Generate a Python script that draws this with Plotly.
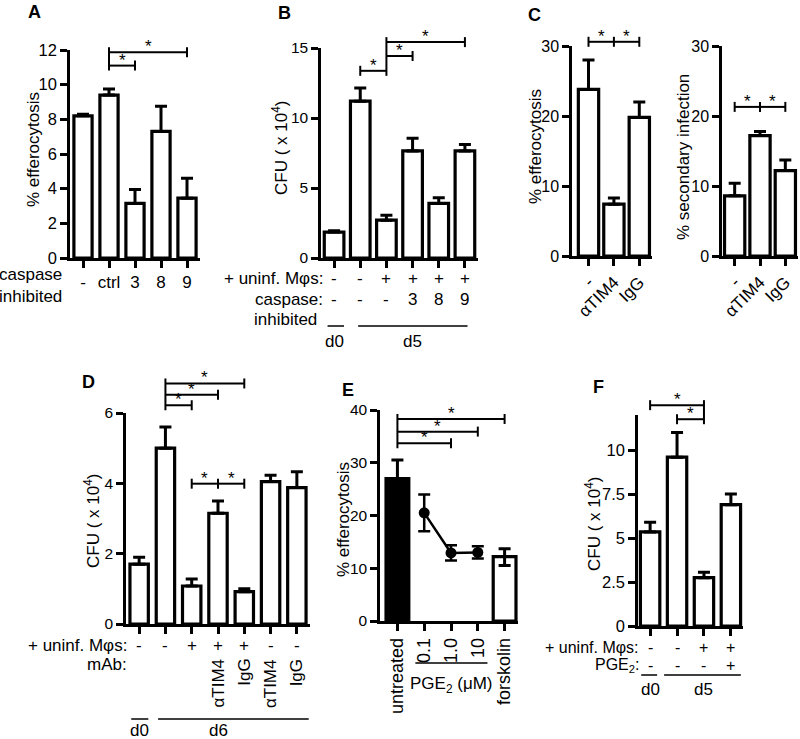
import plotly.graph_objects as go

W, H = 800, 739
FONT = "Liberation Sans, Arial, Helvetica, sans-serif"

# ---------------- data ----------------
A_labels = ["-", "ctrl", "3", "8", "9"]
A_vals = [8.2, 9.4, 3.15, 7.3, 3.45]
A_err = [0.1, 0.35, 0.8, 1.45, 1.15]
A_sig = [(1, 2, 11.1), (1, 4, 11.87)]

B_vals = [1.85, 11.2, 2.7, 7.65, 3.9, 7.65]
B_err = [0.1, 0.95, 0.35, 0.9, 0.4, 0.45]
B_row1 = ["-", "-", "+", "+", "+", "+"]
B_row2 = ["-", "-", "-", "3", "8", "9"]
B_sig = [(1, 2, 13.37), (2, 3, 14.43), (2, 5, 15.42)]

C_labels = ["-", "αTIM4", "IgG"]
C1_vals = [23.8, 7.4, 19.8]
C1_err = [4.2, 0.9, 2.2]
C1_sig = [(0, 1, 30.6), (1, 2, 30.6)]
C2_vals = [8.6, 17.2, 12.2]
C2_err = [1.8, 0.6, 1.5]
C2_sig = [(0, 1, 21.3), (1, 2, 21.3)]

D_vals = [1.7, 5.0, 1.08, 3.15, 0.92, 4.05, 3.88]
D_err = [0.2, 0.6, 0.2, 0.35, 0.08, 0.18, 0.45]
D_row1 = ["-", "-", "+", "+", "+", "-", "-"]
D_mab = ["", "", "", "αTIM4", "IgG", "αTIM4", "IgG"]
D_sig = [(1, 2, 6.22), (1, 3, 6.52), (1, 4, 6.84), (2, 3, 3.99), (3, 4, 3.99)]

E_labels = ["untreated", "0.1", "1.0", "10", "forskolin"]
E_bar_x = [0, 4]
E_bar_vals = [27.0, 12.2]
E_bar_err_up = [3.5, 1.5]
E_bar_err_dn = [0, 1.7]
E_bar_colors = ["black", "white"]
E_pt_x = [1, 2, 3]
E_pt_vals = [20.5, 12.9, 13.0]
E_pt_err = [3.5, 1.45, 1.15]
E_sig = [(0, 2, 33.7), (0, 3, 35.9), (0, 4, 38.3)]

F_vals = [5.35, 9.6, 2.75, 6.9]
F_err = [0.55, 1.4, 0.3, 0.6]
F_row1 = ["-", "-", "+", "+"]
F_row2 = ["-", "-", "-", "+"]
F_sig = [(0, 2, 12.56), (1, 2, 11.76)]

# ---------------- panel geometry (pixels) ----------------
P = {
    "A": dict(n=1, xd=(70, 200), yd=(50, 258), xr=(-0.5, 4.5), yr=(0, 12), yt=[0, 2, 4, 6, 8, 10, 12], nc=5, fs=16.5),
    "B": dict(n=2, xd=(321, 478), yd=(48, 258), xr=(-0.5, 5.5), yr=(0, 15), yt=[0, 5, 10, 15], nc=6, fs=15.5),
    "C1": dict(n=3, xd=(572, 652), yd=(46, 256), xr=(-0.65, 2.5), yr=(0, 30), yt=[0, 10, 20, 30], nc=3, fs=16),
    "C2": dict(n=4, xd=(722, 798), yd=(46, 256), xr=(-0.5, 2.5), yr=(0, 30), yt=[0, 10, 20, 30], nc=3, fs=16),
    "D": dict(n=5, xd=(126, 310), yd=(413, 624), xr=(-0.5, 6.5), yr=(0, 6), yt=[0, 2, 4, 6], nc=7, fs=15.5),
    "E": dict(n=6, xd=(380, 518), yd=(410, 621), xr=(-0.65, 4.5), yr=(0, 40), yt=[0, 10, 20, 30, 40], nc=5, fs=15.5),
    "F": dict(n=7, xd=(638, 743), yd=(415, 626), xr=(-0.45, 3.45), yr=(0, 12), yt=[0, 2.5, 5, 7.5, 10], nc=4, fs=16.5),
}

fig = go.Figure()
shapes, annots = [], []


def ids(n):
    return ("x", "y") if n == 1 else (f"x{n}", f"y{n}")


def fx(p, x):
    return (x - p["xr"][0]) / (p["xr"][1] - p["xr"][0])


def fy(p, y):
    return (y - p["yr"][0]) / (p["yr"][1] - p["yr"][0])


def add_bars(p, x, vals, up, dn, width, colors="white"):
    xa, ya = ids(p["n"])
    fig.add_trace(go.Bar(
        x=x, y=vals, width=width, xaxis=xa, yaxis=ya,
        marker=dict(color=colors, line=dict(color="black", width=3.2)),
        error_y=dict(type="data", symmetric=False, array=up, arrayminus=dn,
                     color="black", thickness=3, width=6),
        showlegend=False, hoverinfo="skip"))


def add_sig(p, sig, tick_px=5, join_px=20):
    xa, ya = ids(p["n"])
    xref, yref = xa + " domain", ya + " domain"
    hpx = p["yd"][1] - p["yd"][0]
    upx = hpx / (p["yr"][1] - p["yr"][0])
    t = tick_px / hpx
    ln = dict(color="black", width=2)
    ends = {}
    for x0, x1, y in sig:
        shapes.append(dict(type="line", xref=xref, yref=yref, x0=fx(p, x0), x1=fx(p, x1),
                           y0=fy(p, y), y1=fy(p, y), line=ln))
        ends.setdefault(x0, []).append(y)
        ends.setdefault(x1, []).append(y)
        annots.append(dict(xref=xref, yref=yref, x=fx(p, (x0 + x1) / 2), y=fy(p, y), text="*",
                           showarrow=False, xanchor="center", yanchor="bottom", yshift=-6,
                           font=dict(size=17)))
    for x, ys in ends.items():
        ys = sorted(ys)
        clusters = [[ys[0]]]
        for y in ys[1:]:
            if (y - clusters[-1][-1]) * upx < join_px:
                clusters[-1].append(y)
            else:
                clusters.append([y])
        for c in clusters:
            shapes.append(dict(type="line", xref=xref, yref=yref, x0=fx(p, x), x1=fx(p, x),
                               y0=fy(p, c[0]) - t, y1=fy(p, c[-1]) + t, line=ln))


def add_row(p, labels, py, size=17):
    xa, _ = ids(p["n"])
    for i, s in enumerate(labels):
        if s:
            annots.append(dict(xref=xa, yref="paper", x=i, y=1 - py / H, text=s,
                               xanchor="center", yanchor="middle",
                               showarrow=False, font=dict(size=size)))


def add_text(px, py, text, xanchor="center", yanchor="middle", size=17, angle=0, bold=False, align="center"):
    if bold:
        text = "<b>" + text + "</b>"
    annots.append(dict(xref="paper", yref="paper", x=px / W, y=1 - py / H, text=text,
                       xanchor=xanchor, yanchor=yanchor, showarrow=False, textangle=angle,
                       align=align, font=dict(size=size)))


def add_group_line(p, x0, x1, py):
    xa, _ = ids(p["n"])
    shapes.append(dict(type="line", xref=xa, yref="paper", x0=x0, x1=x1,
                       y0=1 - py / H, y1=1 - py / H, line=dict(color="black", width=1.5)))


# ---------------- traces ----------------
add_bars(P["A"], list(range(5)), A_vals, A_err, [0] * 5, 0.7)
add_bars(P["B"], list(range(6)), B_vals, B_err, [0] * 6, 0.75)
add_bars(P["C1"], list(range(3)), C1_vals, C1_err, [0] * 3, 0.8)
add_bars(P["C2"], list(range(3)), C2_vals, C2_err, [0] * 3, 0.8)
add_bars(P["D"], list(range(7)), D_vals, D_err, [0] * 7, 0.7)
add_bars(P["E"], E_bar_x, E_bar_vals, E_bar_err_up, E_bar_err_dn, 0.85, E_bar_colors)
add_bars(P["F"], list(range(4)), F_vals, F_err, [0] * 4, 0.72)

xa, ya = ids(P["E"]["n"])
fig.add_trace(go.Scatter(
    x=E_pt_x, y=E_pt_vals, xaxis=xa, yaxis=ya, mode="lines+markers",
    line=dict(color="black", width=2.5), marker=dict(color="black", size=11),
    error_y=dict(type="data", array=E_pt_err, color="black", thickness=2.5, width=6),
    showlegend=False, hoverinfo="skip"))

# ---------------- axes ----------------
layout_axes = {}
ticklabels = {
    "A": dict(ticktext=A_labels, showticklabels=True, tickangle=0, tickfont=dict(size=17, color="black")),
    "B": dict(showticklabels=False),
    "C1": dict(ticktext=C_labels, showticklabels=True, tickangle=-45, tickfont=dict(size=17, color="black")),
    "C2": dict(ticktext=C_labels, showticklabels=True, tickangle=-45, tickfont=dict(size=17, color="black")),
    "D": dict(showticklabels=False),
    "E": dict(ticktext=E_labels, showticklabels=True, tickangle=-90, tickfont=dict(size=18, color="black")),
    "F": dict(showticklabels=False),
}
for key, p in P.items():
    n = p["n"]
    xa, ya = ids(n)
    xk = "xaxis" if n == 1 else f"xaxis{n}"
    yk = "yaxis" if n == 1 else f"yaxis{n}"
    common = dict(showline=True, linewidth=2.5, linecolor="black", ticks="outside", ticklen=7,
                  tickwidth=2.5, tickcolor="black", showgrid=False, zeroline=False, fixedrange=True,
                  automargin=False)
    layout_axes[xk] = dict(common, domain=[p["xd"][0] / W, p["xd"][1] / W], range=list(p["xr"]),
                           anchor=ya, tickvals=list(range(p["nc"])), **ticklabels[key])
    layout_axes[yk] = dict(common, domain=[1 - p["yd"][1] / H, 1 - p["yd"][0] / H], range=list(p["yr"]),
                           anchor=xa, tickvals=p["yt"], tickfont=dict(size=p["fs"], color="black"),
                           ticktext=[("%g" % v) for v in p["yt"]])

# ---------------- significance brackets ----------------
add_sig(P["A"], A_sig)
add_sig(P["B"], B_sig)
add_sig(P["C1"], C1_sig)
add_sig(P["C2"], C2_sig)
add_sig(P["D"], D_sig)
add_sig(P["E"], E_sig)
add_sig(P["F"], F_sig)

# ---------------- category annotations ----------------
# A
add_text(64, 285, "caspase<br>inhibited", xanchor="right", align="right")
# B
add_text(325, 278, "+ uninf. Mφs:", xanchor="right")
add_row(P["B"], B_row1, 278)
add_text(325, 299, "caspase:", xanchor="right")
add_row(P["B"], B_row2, 299)
add_text(319, 320, "inhibited", xanchor="right")
add_group_line(P["B"], -0.25, 0.38, 326)
add_group_line(P["B"], 0.92, 5.1, 326)
add_row(P["B"], ["d0", "", "", "d5"], 342)
# D
add_text(129, 645, "+ uninf. Mφs:", xanchor="right")
add_row(P["D"], D_row1, 645)
add_text(129, 664, "mAb:", xanchor="right")
xaD, _ = ids(P["D"]["n"])
for i, s in enumerate(D_mab):
    if s:
        annots.append(dict(xref=xaD, yref="paper", x=i, y=1 - 657 / H, text=s, textangle=-90,
                           xanchor="center", yanchor="top", showarrow=False, font=dict(size=17)))
add_group_line(P["D"], -0.3, 0.35, 719)
add_group_line(P["D"], 0.72, 6.45, 719)
add_row(P["D"], ["d0", "", "", "d6"], 730)
# E
add_group_line(P["E"], 0.67, 3.36, 663)
xaE, _ = ids(P["E"]["n"])
annots.append(dict(xref=xaE, yref="paper", x=2, y=1 - 685 / H, text="PGE<sub>2</sub> (μM)",
                   xanchor="center", yanchor="middle", showarrow=False, font=dict(size=17)))
# F
add_text(641, 647, "+ uninf. Mφs:", xanchor="right", size=16)
add_row(P["F"], F_row1, 647, size=16)
add_text(641, 665, "PGE<sub>2</sub>:", xanchor="right", size=16)
add_row(P["F"], F_row2, 665, size=16)
add_group_line(P["F"], -0.33, 0.26, 675)
add_group_line(P["F"], 0.52, 3.37, 675)
add_row(P["F"], ["d0", "", "d5"], 689)

# ---------------- axis titles ----------------
cfu = "CFU ( x 10<sup>4</sup>)"
add_text(33, 150, "% efferocytosis", angle=-90, size=17)
add_text(280, 148, cfu, angle=-90, size=17)
add_text(535, 147, "% efferocytosis", angle=-90, size=17)
add_text(683, 157, "% secondary infection", angle=-90, size=17)
add_text(92, 521, cfu, angle=-90, size=17)
add_text(343, 520, "% efferocytosis", angle=-90, size=17)
add_text(593, 524, cfu, angle=-90, size=17)

# ---------------- panel letters ----------------
for letter, (px, py) in {"A": (34, 12), "B": (284, 13), "C": (534, 15),
                         "D": (88, 382), "E": (348, 390), "F": (598, 387)}.items():
    add_text(px, py, letter, size=18, bold=True)

fig.update_layout(
    width=W, height=H, autosize=False,
    margin=dict(l=0, r=0, t=0, b=0, pad=0),
    paper_bgcolor="white", plot_bgcolor="white",
    font=dict(family=FONT, color="black", size=17),
    shapes=shapes, annotations=annots, showlegend=False,
    **layout_axes,
)

fig.write_html("out.html", config={"displayModeBar": False, "responsive": False},
               post_script="document.body.style.margin='0';document.body.style.overflow='hidden';")
